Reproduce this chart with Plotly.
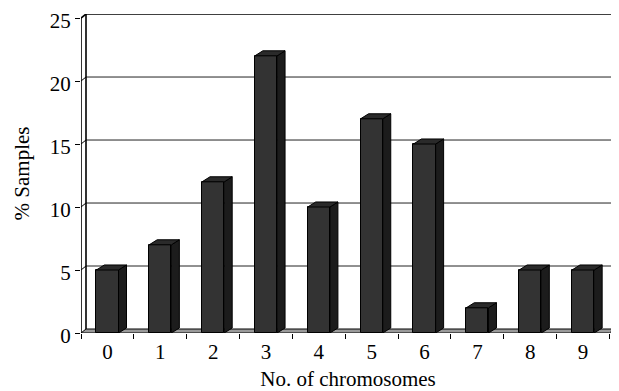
import plotly.graph_objects as go

# ---- data ----
categories = ["0", "1", "2", "3", "4", "5", "6", "7", "8", "9"]
values = [5, 7, 12, 22, 10, 17, 15, 2, 5, 5]
y_ticks = [0, 5, 10, 15, 20, 25]

# ---- style / geometry ----
FONT = "Liberation Serif, Times New Roman, serif"
X_RANGE = [-0.5, 9.604]
Y_RANGE = [0, 25.32]
BAR_W = 0.42
DXW, DYW = 0.0946, 0.317      # depth of walls/floor in data units
DXB, DYB = 0.151, 0.40        # depth of bars in data units
n = len(categories)
xs = list(range(n))
left, right = -0.5, n - 0.5
ymax = y_ticks[-1]

fig = go.Figure()

# front faces of the bars
fig.add_trace(go.Bar(
    x=xs, y=values, width=BAR_W,
    marker=dict(color="#333333", line=dict(color="black", width=1)),
    hoverinfo="skip", showlegend=False,
))

# side and top faces built from the values
side_x, side_y, top_x, top_y = [], [], [], []
for x, v in zip(xs, values):
    r = x + BAR_W / 2
    l = x - BAR_W / 2
    side_x += [r, r + DXB, r + DXB, r, r, None]
    side_y += [0, DYB, v + DYB, v, 0, None]
    top_x += [l, r, r + DXB, l + DXB, l, None]
    top_y += [v, v, v + DYB, v + DYB, v, None]

fig.add_trace(go.Scatter(x=side_x, y=side_y, mode="lines", fill="toself",
                         fillcolor="#1c1c1c", line=dict(color="black", width=1),
                         hoverinfo="skip", showlegend=False))
fig.add_trace(go.Scatter(x=top_x, y=top_y, mode="lines", fill="toself",
                         fillcolor="#2a2a2a", line=dict(color="black", width=1),
                         hoverinfo="skip", showlegend=False))

shapes = []
# floor
shapes.append(dict(type="path", layer="below",
                   path=f"M {left},0 L {right},0 L {right+DXW},{DYW} L {left+DXW},{DYW} Z",
                   fillcolor="#9a9a9a", line=dict(color="black", width=1)))
# gridlines (side wall diagonal + back wall)
for t in y_ticks[1:-1]:
    shapes.append(dict(type="line", layer="below", x0=left, y0=t, x1=left + DXW, y1=t + DYW,
                       line=dict(color="black", width=1)))
    shapes.append(dict(type="line", layer="below", x0=left + DXW, y0=t + DYW, x1=right + DXW, y1=t + DYW,
                       line=dict(color="#222222", width=1)))
# walls frame
frame = [
    (left, 0, left, ymax),
    (left + DXW, DYW, left + DXW, ymax + DYW),
    (left, ymax, left + DXW, ymax + DYW),
    (left + DXW, ymax + DYW, right + DXW, ymax + DYW),
    (right + DXW, DYW, right + DXW, ymax + DYW),
]
for x0, y0, x1, y1 in frame:
    shapes.append(dict(type="line", layer="below", x0=x0, y0=y0, x1=x1, y1=y1,
                       line=dict(color="black", width=1.6)))

# the page body has an 8px default margin, so the figure is 8px smaller
fig.update_layout(
    width=611, height=383,
    margin=dict(l=73, r=4, t=6, b=58),
    paper_bgcolor="white", plot_bgcolor="white",
    font=dict(family=FONT, size=21, color="black"),
    shapes=shapes,
    bargap=0,
    xaxis=dict(
        range=X_RANGE, tickvals=xs, ticktext=categories, automargin=False,
        ticks="", showgrid=False, zeroline=False, showline=False,
        tickfont=dict(size=21), ticklabelstandoff=4, ticklabeloverflow="allow",
        minor=dict(tickvals=[i - 0.5 for i in range(n + 1)], ticks="outside",
                   ticklen=5, tickcolor="black", tickwidth=1, showgrid=False),
        title=dict(text="No. of chromosomes", font=dict(size=21), standoff=10),
    ),
    yaxis=dict(
        range=Y_RANGE, tickvals=y_ticks, ticks="outside", ticklen=5, automargin=False,
        tickcolor="black", showgrid=False, zeroline=False, showline=False,
        tickfont=dict(size=21), ticklabeloverflow="allow", ticklabelshift=3,
        title=dict(text="% Samples", font=dict(size=21), standoff=14),
    ),
)

fig.write_html("out.html")
